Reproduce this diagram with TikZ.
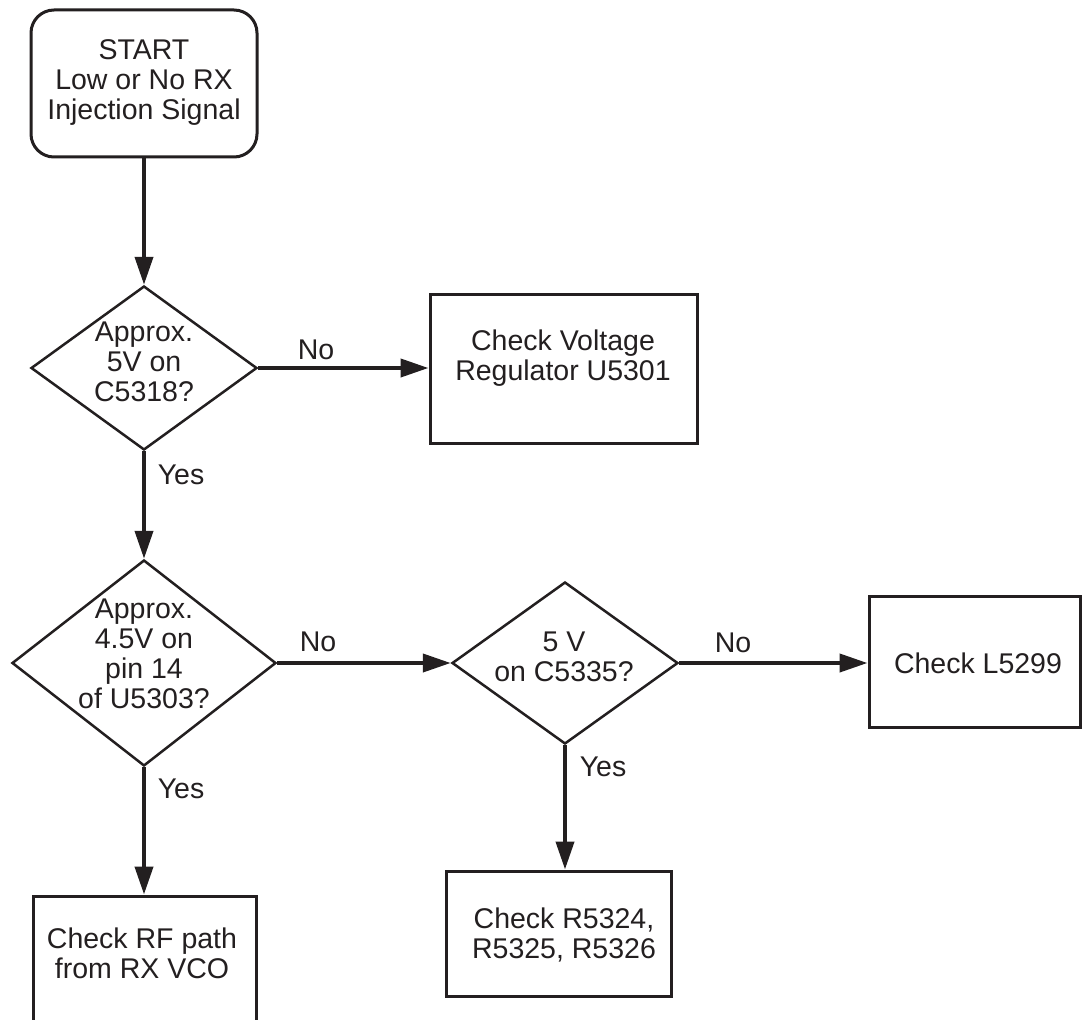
\documentclass[tikz,border=0pt]{standalone}
\usepackage{fontspec}
\setmainfont{Liberation Sans}
\usetikzlibrary{shapes.geometric,arrows.meta}
\definecolor{ink}{RGB}{35,31,32}
\begin{document}
\begin{tikzpicture}[x=1pt,y=-1pt,
  every node/.style={font=\fontsize{28.5}{30}\selectfont, text=ink},
  boxshape/.style={draw=ink, line width=3pt, rectangle, inner sep=0pt},
  startshape/.style={draw=ink, line width=3pt, rectangle, rounded corners=23pt, inner sep=0pt},
  decshape/.style={draw=ink, line width=2.5pt, diamond, inner sep=0pt},
  flow/.style={draw=ink, line width=4pt, -{Triangle[length=28pt,width=18pt]}},
  txt/.style={align=center, inner sep=0pt},
  lab/.style={inner sep=0pt}]
\useasboundingbox (0,0) rectangle (1083,1019);
\fill[white] (0,0) rectangle (1083,1019);

% shapes
\node[startshape, minimum width=226pt, minimum height=147pt] (start) at (144,83.5) {};
\node[decshape, minimum width=226pt, minimum height=164pt] (d1) at (144,368) {};
\node[boxshape, minimum width=267pt, minimum height=149pt] (reg) at (563.5,368.5) {};
\node[decshape, minimum width=264pt, minimum height=206pt] (d2) at (144,663) {};
\node[decshape, minimum width=226pt, minimum height=162pt] (d3) at (565,663) {};
\node[boxshape, minimum width=211pt, minimum height=131pt] (lbox) at (974.5,661.5) {};
\node[boxshape, minimum width=225pt, minimum height=125pt] (rbox) at (558.5,933.5) {};
\node[boxshape, minimum width=223pt, minimum height=150pt] (rf) at (144.5,971) {};

% texts
\node[txt] (startt) at (144,83) {START\\Low or No RX\\Injection Signal};
\node[txt] (d1t) at (144,362) {Approx.\\5V on\\C5318?};
\node[txt] (regt) at (563,358) {Check Voltage\\Regulator U5301};
\node[txt] (d2t) at (144,654) {Approx.\\4.5V on\\pin 14\\of U5303?};
\node[txt] (d3t) at (564,657) {5 V\\on C5335?};
\node[txt] (lboxt) at (978,663) {Check L5299};
\node[txt] (rboxt) at (564,934.5) {Check R5324,\\R5325, R5326};
\node[txt] (rft) at (142,953) {Check RF path\\from RX VCO};

% connectors
\draw[flow] (start.south) -- (d1.north);
\draw[flow] (d1.east) -- (reg.west |- d1.east);
\draw[flow] (d1.south) -- (d2.north);
\draw[flow] (d2.east) -- (d3.west);
\draw[flow] (d3.east) -- (lbox.west |- d3.east);
\draw[flow] (d3.south) -- (d3.south |- rbox.north);
\draw[flow] (d2.south) -- (d2.south |- rf.north);

% labels
\node[lab] (no1) at (316,350) {No};
\node[lab] (yes1) at (181,475) {Yes};
\node[lab] (no2) at (318,642) {No};
\node[lab] (no3) at (733,643) {No};
\node[lab] (yes3) at (603,767) {Yes};
\node[lab] (yes2) at (181,789) {Yes};
\end{tikzpicture}
\end{document}
